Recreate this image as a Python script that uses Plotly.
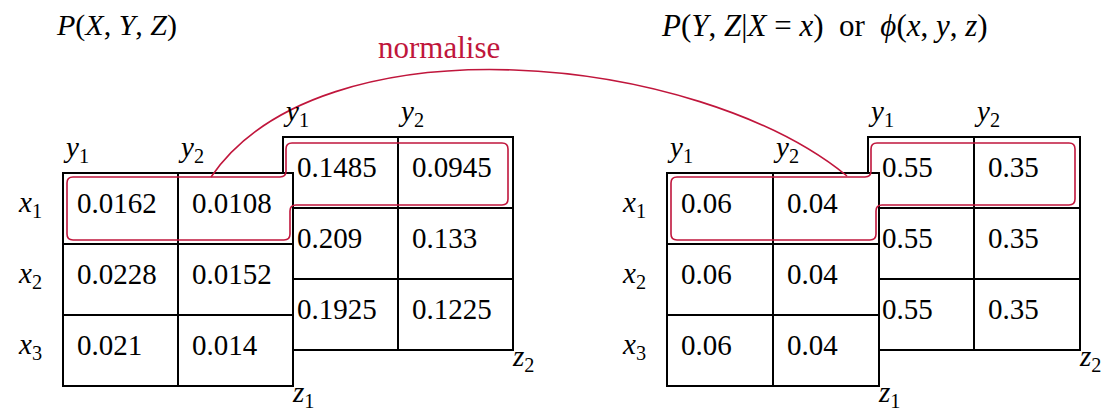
import plotly.graph_objects as go

# ---------------- data ----------------
joint_z1 = [[0.0162, 0.0108], [0.0228, 0.0152], [0.021, 0.014]]
joint_z2 = [[0.1485, 0.0945], [0.209, 0.133], [0.1925, 0.1225]]
cond_z1 = [[0.06, 0.04], [0.06, 0.04], [0.06, 0.04]]
cond_z2 = [[0.55, 0.35], [0.55, 0.35], [0.55, 0.35]]
row_labels = ["<i>x</i><sub>1</sub>", "<i>x</i><sub>2</sub>", "<i>x</i><sub>3</sub>"]
col_labels = ["<i>y</i><sub>1</sub>", "<i>y</i><sub>2</sub>"]
z_labels = ["<i>z</i><sub>1</sub>", "<i>z</i><sub>2</sub>"]
title_left = "<i>P</i>(<i>X</i>,&nbsp;<i>Y</i>,&nbsp;<i>Z</i>)"
title_right = ("<i>P</i>(<i>Y</i>,&nbsp;<i>Z</i>|<i>X</i>&nbsp;=&nbsp;<i>x</i>)&nbsp;&nbsp;or&nbsp;&nbsp;"
               "<i>ϕ</i>(<i>x</i>,&nbsp;<i>y</i>,&nbsp;<i>z</i>)")
arrow_label = "normalise"

# ---------------- layout constants ----------------
W, H = 1104, 411
FONT = "Liberation Serif"
FS = 29
RED = "#C0163C"
ROW_H = 71
panels = [
    dict(front=(63, 173), col_w=115, back_dx=220, vals=(joint_z1, joint_z2)),
    dict(front=(667, 173), col_w=106, back_dx=201, vals=(cond_z1, cond_z2)),
]
BACK_DY = -36

shapes = []
annotations = []


def ann(x, y, text, xanchor="left", color="black", size=FS):
    annotations.append(dict(x=x, y=y, xref="x", yref="y", text=text, showarrow=False,
                            xanchor=xanchor, yanchor="middle",
                            font=dict(family=FONT, size=size, color=color)))


def table(x0, y0, cw, vals, zlab, show_rows):
    nr, nc = len(vals), len(vals[0])
    x1, y1 = x0 + nc * cw, y0 + nr * ROW_H
    shapes.append(dict(type="rect", xref="x", yref="y", x0=x0, y0=y0, x1=x1, y1=y1,
                       fillcolor="white", line=dict(color="black", width=2)))
    for c in range(1, nc):
        shapes.append(dict(type="line", xref="x", yref="y", x0=x0 + c * cw, x1=x0 + c * cw,
                           y0=y0, y1=y1, line=dict(color="black", width=2)))
    for r in range(1, nr):
        shapes.append(dict(type="line", xref="x", yref="y", x0=x0, x1=x1,
                           y0=y0 + r * ROW_H, y1=y0 + r * ROW_H, line=dict(color="black", width=2)))
    for r in range(nr):
        for c in range(nc):
            ann(x0 + c * cw + 12, y0 + r * ROW_H + 30, str(vals[r][c]))
    for c in range(nc):
        ann(x0 + c * cw - 2, y0 - 24, col_labels[c])
    ann(x1 - 3, y1 + 8, zlab)
    if show_rows:
        for r in range(nr):
            ann(x0 - 19, y0 + r * ROW_H + 31, row_labels[r], xanchor="right")
    return x1, y1


def outline(fl, fr, ft, fb, bl, br, bt, bb, r=6):
    return (f"M {fl+r},{ft} L {bl-r},{ft} Q {bl},{ft} {bl},{ft-r} L {bl},{bt+r} "
            f"Q {bl},{bt} {bl+r},{bt} L {br-r},{bt} Q {br},{bt} {br},{bt+r} L {br},{bb-r} "
            f"Q {br},{bb} {br-r},{bb} L {fr+r},{bb} Q {fr},{bb} {fr},{bb+r} L {fr},{fb-r} "
            f"Q {fr},{fb} {fr-r},{fb} L {fl+r},{fb} Q {fl},{fb} {fl},{fb-r} L {fl},{ft+r} "
            f"Q {fl},{ft} {fl+r},{ft} Z")


outline_paths = []
for p in panels:
    fx, fy = p["front"]
    cw = p["col_w"]
    bx, by = fx + p["back_dx"], fy + BACK_DY
    front_vals, back_vals = p["vals"]
    bx1, by1 = table(bx, by, cw, back_vals, z_labels[1], False)
    fx1, fy1 = table(fx, fy, cw, front_vals, z_labels[0], True)
    outline_paths.append(outline(fx + 4, fx1 - 3, fy + 4, fy + ROW_H - 4,
                                 bx + 3, bx1 - 5, by + 6, by + ROW_H - 3))
    p["fx1"] = fx1

for path in outline_paths:
    shapes.append(dict(type="path", xref="x", yref="y", path=path,
                       line=dict(color=RED, width=1.6)))

# normalise arc
sx, sy = panels[0]["front"][0] + panels[0]["col_w"] + 33, panels[0]["front"][1] + 4
ex, ey = panels[1]["fx1"] - 32, panels[1]["front"][1] + 3
shapes.append(dict(type="path", xref="x", yref="y",
                   path=f"M {sx},{sy} C {sx+110},{16} {ex-150},{53} {ex},{ey}",
                   line=dict(color=RED, width=1.6)))

ann(439, 47, arrow_label, xanchor="center", color=RED, size=31)
ann(54, 25, title_left, size=30)
ann(659, 25, title_right, size=31)

fig = go.Figure()
fig.update_layout(
    width=W, height=H, margin=dict(l=0, r=0, t=0, b=0),
    paper_bgcolor="white", plot_bgcolor="white",
    xaxis=dict(range=[0, W], visible=False, fixedrange=True),
    yaxis=dict(range=[H, 0], visible=False, fixedrange=True),
    shapes=shapes, annotations=annotations, showlegend=False,
)
fig.write_html("out.html", config={"displayModeBar": False},
               post_script="document.body.style.margin='0';")
